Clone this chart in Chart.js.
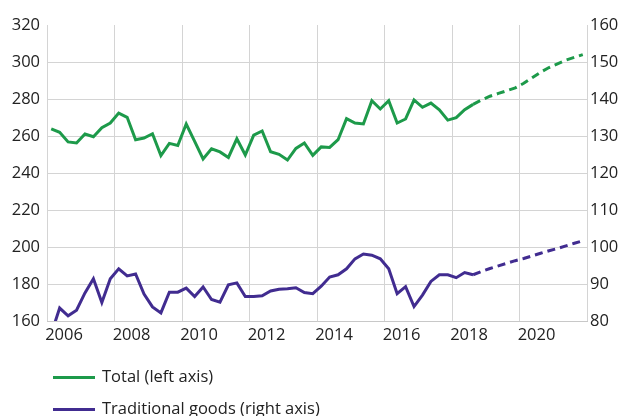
<!DOCTYPE html>
<html>
<head>
<meta charset="utf-8">
<script src="https://cdn.jsdelivr.net/npm/chart.js@4"></script>
<style>
  html, body { margin: 0; padding: 0; background: #fff; }
  #wrap { position: relative; width: 625px; height: 416px; }
  #legend { position: absolute; left: 53px; top: 362px; font-family: "Open Sans", sans-serif; font-size: 16.5px; color: #222; }
  .item { position: relative; height: 32px; line-height: 28px; padding-left: 49px; white-space: nowrap; }
  .item span { position: absolute; left: 0; top: 14px; width: 42px; height: 3px; }
</style>
</head>
<body>
<div id="wrap">
  <canvas id="chart" width="625" height="416"></canvas>
  <div id="legend">
    <div class="item"><span style="background:#1d9a4a"></span>Total (left axis)</div>
    <div class="item"><span style="background:#412c90"></span>Traditional goods (right axis)</div>
  </div>
</div>
<script>
// quarters 2006Q1 .. 2021Q4, forecast starts after 2018Q3
const quarters = [];
for (let y = 2006; y <= 2021; y++) {
  for (let q = 1; q <= 4; q++) quarters.push(y + 'Q' + q);
}
const forecastStart = 50;

// Total, left axis
const total = [263.9, 262.0, 256.8, 256.2, 261.1, 259.6, 264.5, 267.0, 272.4, 270.1,
  258.0, 258.9, 261.2, 249.4, 256.0, 254.9, 266.5, 257.1, 247.6, 253.1,
  251.4, 248.4, 258.5, 249.7, 260.5, 262.7, 251.5, 250.1, 247.0, 253.3,
  256.2, 249.5, 254.1, 253.8, 258.0, 269.4, 267.0, 266.5, 279.1, 274.6,
  279.1, 267.0, 269.2, 279.5, 275.5, 277.8, 274.2, 268.6, 269.9, 274.2,
  277.1, 279.5, 281.5, 283.0, 284.5, 286.0, 288.5, 291.5, 294.5, 297.0,
  299.0, 301.0, 302.5, 304.0];

// Traditional goods, right axis
const traditional = [76.5, 83.5, 81.4, 82.9, 87.6, 91.4, 85.0, 91.4, 94.1, 92.2,
  92.7, 87.3, 83.8, 82.2, 87.8, 87.8, 88.9, 86.6, 89.2, 85.8,
  85.1, 89.8, 90.3, 86.6, 86.6, 86.8, 88.1, 88.6, 88.7, 89.0,
  87.7, 87.4, 89.4, 91.9, 92.5, 94.1, 96.8, 98.1, 97.8, 96.8,
  94.1, 87.4, 89.3, 83.9, 87.0, 90.7, 92.5, 92.5, 91.7, 93.1,
  92.5, 93.4, 94.2, 94.9, 95.6, 96.3, 96.9, 97.6, 98.3, 99.0,
  99.6, 100.3, 101.0, 101.7];

const leftTicks = [160, 320, 20];
const rightTicks = [80, 160, 10];
const yearRange = [2006, 2022];

function qx(label) {
  const parts = label.split('Q');
  return Number(parts[0]) + (Number(parts[1]) - 0.5) / 4;
}
function points(values) {
  return values.map((v, i) => ({x: qx(quarters[i]), y: v}));
}
const dashed = ctx => ctx.p0DataIndex >= forecastStart ? [8, 5] : undefined;

const font = {family: '"Open Sans", sans-serif', size: 16.5};
const gridColor = '#d4d4d4';

new Chart(document.getElementById('chart'), {
  type: 'line',
  data: {
    datasets: [{
      label: 'Total (left axis)',
      data: points(total),
      yAxisID: 'y',
      borderColor: '#1d9a4a',
      borderWidth: 3,
      pointRadius: 0,
      tension: 0,
      segment: {borderDash: dashed}
    }, {
      label: 'Traditional goods (right axis)',
      data: points(traditional),
      yAxisID: 'y1',
      borderColor: '#412c90',
      borderWidth: 3,
      pointRadius: 0,
      tension: 0,
      clip: 0,
      segment: {borderDash: dashed}
    }]
  },
  options: {
    responsive: false,
    animation: false,
    layout: {padding: {top: 25, left: 0, right: 0, bottom: 0}},
    plugins: {legend: {display: false}, tooltip: {enabled: false}},
    scales: {
      x: {
        type: 'linear',
        min: yearRange[0],
        max: yearRange[1],
        afterFit: s => { s.height = 95; },
        border: {display: true, color: '#c8c8c8'},
        grid: {color: gridColor, drawTicks: false},
        ticks: {
          stepSize: 2,
          autoSkip: false,
          maxRotation: 0,
          padding: 4,
          labelOffset: 17,
          color: '#222',
          font: font,
          callback: v => v >= yearRange[1] ? '' : String(v)
        }
      },
      y: {
        position: 'left',
        min: leftTicks[0],
        max: leftTicks[1],
        afterFit: s => { s.width = 47; },
        border: {display: false},
        grid: {
          drawTicks: false,
          color: c => c.tick && c.tick.value === leftTicks[1] ? 'rgba(0,0,0,0)' : gridColor
        },
        ticks: {stepSize: leftTicks[2], padding: 7, color: '#222', font: font}
      },
      y1: {
        position: 'right',
        min: rightTicks[0],
        max: rightTicks[1],
        afterFit: s => { s.width = 38; },
        border: {display: false},
        grid: {drawOnChartArea: false, drawTicks: false},
        ticks: {stepSize: rightTicks[2], padding: 3, color: '#222', font: font}
      }
    }
  }
});
</script>
</body>
</html>
